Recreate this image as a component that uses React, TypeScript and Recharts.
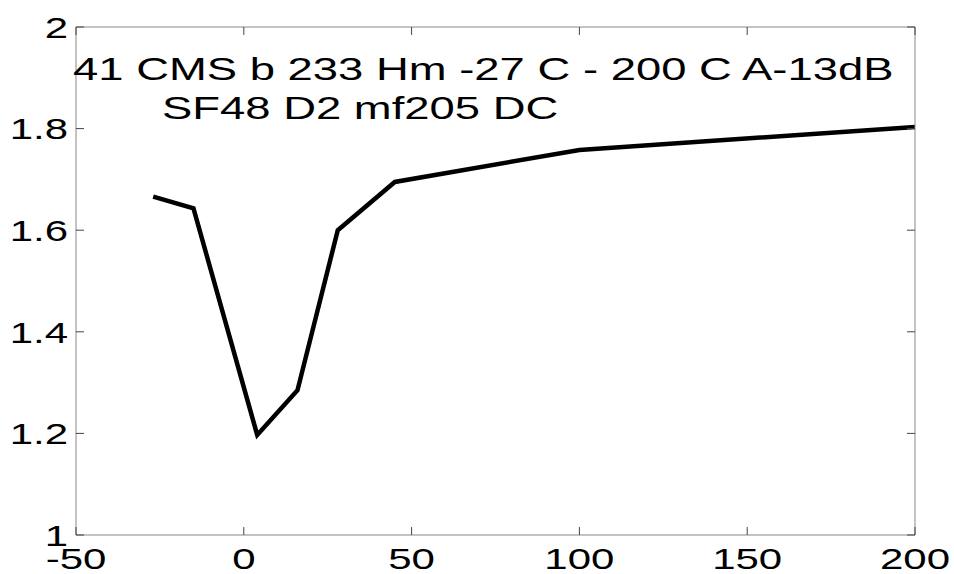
import { LineChart, Line, XAxis, YAxis } from 'recharts';

const temps = [-27, -15, 4, 16, 28, 45, 100, 200];
const ratio = [1.666, 1.643, 1.197, 1.285, 1.6, 1.695, 1.758, 1.803];
const xTicks = [-50, 0, 50, 100, 150, 200];
const yTicks = [1, 1.2, 1.4, 1.6, 1.8, 2];
const titleLines = ['41 CMS b 233 Hm -27 C - 200 C A-13dB', 'SF48 D2 mf205 DC'];

const data = temps.map((t, i) => ({ t, v: ratio[i] }));

const W = 954;
const H = 574;
const FONT = '"Liberation Sans", Arial, sans-serif';
const STRETCH = 1.4;
const TICK_LEN = 8;
const TICK_COLOR = '#444';
const FRAME = '#888';

// bottom axis: label sits 13px below the frame line
const XTick = (props: any) => {
    const { x, y, payload } = props;
    return (
        <g>
            <line x1={x} x2={x} y1={y - 13} y2={y - 13 - TICK_LEN} stroke={TICK_COLOR} />
            <text
                transform={`translate(${x},${y}) scale(${STRETCH},1)`}
                textAnchor="middle"
                dy="0.71em"
                fontSize={30}
                fontFamily={FONT}
                fill="#000"
            >
                {payload.value}
            </text>
        </g>
    );
};

// left axis: label ends 8px left of the frame line
const YTick = (props: any) => {
    const { x, y, payload } = props;
    return (
        <g>
            <line x1={x + 8} x2={x + 8 + TICK_LEN} y1={y} y2={y} stroke={TICK_COLOR} />
            <text
                transform={`translate(${x},${y}) scale(${STRETCH},1)`}
                textAnchor="end"
                dy="0.36em"
                fontSize={30}
                fontFamily={FONT}
                fill="#000"
            >
                {payload.value}
            </text>
        </g>
    );
};

const TopTick = (props: any) => {
    const { x, y } = props;
    return <line x1={x} x2={x} y1={y} y2={y + TICK_LEN} stroke={TICK_COLOR} />;
};

const RightTick = (props: any) => {
    const { x, y } = props;
    return <line x1={x} x2={x - TICK_LEN} y1={y} y2={y} stroke={TICK_COLOR} />;
};

export default function App() {
    return (
        <div style={{ position: 'absolute', left: 0, top: 0, width: W, height: H, background: '#fff' }}>
            <LineChart width={W} height={H} data={data} margin={{ top: 26, right: 38, left: 0, bottom: 0 }}>
                <XAxis
                    dataKey="t"
                    type="number"
                    domain={[-50, 200]}
                    ticks={xTicks}
                    height={39}
                    tickSize={0}
                    tickMargin={13}
                    tick={XTick}
                    tickLine={false}
                    axisLine={{ stroke: FRAME }}
                />
                <XAxis
                    xAxisId="top"
                    orientation="top"
                    dataKey="t"
                    type="number"
                    domain={[-50, 200]}
                    ticks={xTicks}
                    height={1}
                    tickSize={0}
                    tickMargin={0}
                    tick={TopTick}
                    tickLine={false}
                    axisLine={{ stroke: FRAME }}
                />
                <YAxis
                    type="number"
                    domain={[1, 2]}
                    ticks={yTicks}
                    width={76}
                    tickSize={0}
                    tickMargin={8}
                    tick={YTick}
                    tickLine={false}
                    axisLine={{ stroke: FRAME }}
                />
                <YAxis
                    yAxisId="right"
                    orientation="right"
                    type="number"
                    domain={[1, 2]}
                    ticks={yTicks}
                    width={1}
                    tickSize={0}
                    tickMargin={0}
                    tick={RightTick}
                    tickLine={false}
                    axisLine={{ stroke: FRAME }}
                />
                <Line
                    xAxisId="top"
                    yAxisId="right"
                    dataKey="v"
                    stroke="none"
                    dot={false}
                    activeDot={false}
                    legendType="none"
                    isAnimationActive={false}
                />
                <Line
                    dataKey="v"
                    stroke="#000"
                    strokeWidth={4.5}
                    dot={false}
                    activeDot={false}
                    isAnimationActive={false}
                />
            </LineChart>
            <svg width={W} height={H} style={{ position: 'absolute', left: 0, top: 0, pointerEvents: 'none' }}>
                <text transform={`translate(73,80) scale(1.42,1)`} fontSize={32} fontFamily={FONT} fill="#000">
                    {titleLines[0]}
                </text>
                <text transform={`translate(162,119) scale(1.42,1)`} fontSize={32} fontFamily={FONT} fill="#000">
                    {titleLines[1]}
                </text>
            </svg>
        </div>
    );
}
